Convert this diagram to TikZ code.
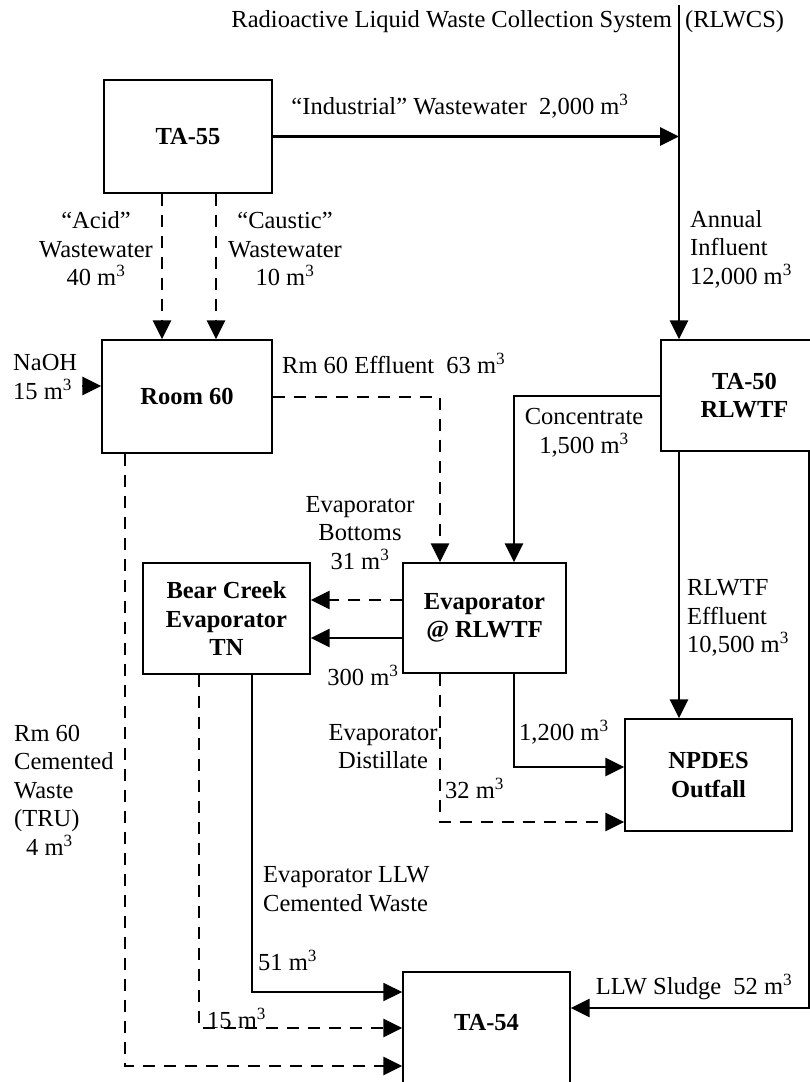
\documentclass[tikz,border=0pt]{standalone}
\usepackage{fontspec}
\setmainfont{Liberation Serif}
\usetikzlibrary{arrows.meta}
\newcommand{\mcube}{m\textsuperscript{3}}
\begin{document}
\begin{tikzpicture}[x=1pt,y=-1pt,
  box/.style={draw, line width=1.4pt, inner sep=0pt, font=\fontsize{24.5}{28.5}\selectfont\bfseries, align=center},
  lbl/.style={inner sep=0pt, font=\fontsize{24.5}{28.5}\selectfont},
  blbl/.style={inner sep=0pt, font=\fontsize{24.5}{28.5}\selectfont\bfseries},
  flow/.style={line width=2.8pt, -{Triangle[length=19pt,width=18pt]}},
  thinflow/.style={line width=1.8pt, -{Triangle[length=19pt,width=18pt]}},
  dflow/.style={line width=2.8pt, dash pattern=on 12pt off 9pt, -{Triangle[length=19pt,width=18pt]}},
  ]
\useasboundingbox (0,0) rectangle (810,1082);
% boxes
\node[box, minimum width=168pt, minimum height=113pt] (ta55) at (188,136.5) {TA-55};
\node[box, minimum width=170pt, minimum height=113pt] (room60) at (187,396.5) {Room 60};
\node[box, minimum width=167pt, minimum height=111pt] (ta50) at (744.5,395.5) {TA-50\\RLWTF};
\node[box, minimum width=163pt, minimum height=110pt] (evap) at (484.5,618) {Evaporator\\@ RLWTF};
\node[box, minimum width=167pt, minimum height=111pt] (bear) at (226.5,618.5) {Bear Creek\\Evaporator\\TN};
\node[box, minimum width=167pt, minimum height=112pt] (npdes) at (708.5,775) {NPDES\\Outfall};
\node[box, minimum width=167pt, minimum height=124pt] (ta54) at (486.5,1034) {};
\node[blbl] (ta54t) at (486.5,1023) {TA-54};
% coordinates
\coordinate (rl) at (679,5);
\coordinate (ac) at (162,0);
\coordinate (ca) at (216,0);
\coordinate (na) at (82,386);
\coordinate (re) at (440,397);
\coordinate (co) at (514,396);
\coordinate (d1) at (0,600);
\coordinate (s1) at (0,638);
\coordinate (e1) at (514,767);
\coordinate (e2) at (440,822);
\coordinate (sl) at (809,1008);
\coordinate (b1) at (252,992);
\coordinate (b2) at (199,1028);
\coordinate (r2) at (125,1066);
% connectors
\draw[flow] (rl) -- (ta50.north -| rl);
\draw[flow] (ta55.east) -- (ta55.east -| rl);
\draw[dflow] (ta55.south -| ac) -- (room60.north -| ac);
\draw[dflow] (ta55.south -| ca) -- (room60.north -| ca);
\draw[flow] (na) -- (room60.west |- na);
\draw[dflow] (room60.east |- re) -- (re) -- (evap.north -| re);
\draw[flow] (ta50.west |- co) -- (co) -- (evap.north -| co);
\draw[dflow] (evap.west |- d1) -- (bear.east |- d1);
\draw[flow] (evap.west |- s1) -- (bear.east |- s1);
\draw[flow] (ta50.south -| rl) -- (npdes.north -| rl);
\draw[flow] (evap.south -| e1) -- (e1) -- (npdes.west |- e1);
\draw[dflow] (evap.south -| e2) -- (e2) -- (npdes.west |- e2);
\draw[flow] (ta50.south -| sl) -- (sl) -- (ta54.east |- sl);
\draw[thinflow] (bear.south -| b1) -- (b1) -- (ta54.west |- b1);
\draw[dflow] (bear.south -| b2) -- (b2) -- (ta54.west |- b2);
\draw[dflow] (room60.south -| r2) -- (r2) -- (ta54.west |- r2);
% labels
\node[lbl, anchor=east] (t1) at (672,22) {Radioactive Liquid Waste Collection System};
\node[lbl, anchor=west] (t2) at (685,22) {(RLWCS)};
\node[lbl] (ind) at (460,106) {“Industrial” Wastewater\ \ 2,000 \mcube};
\node[lbl, align=center] (acid) at (96,249) {“Acid”\\Wastewater\\40 \mcube};
\node[lbl, align=center] (caus) at (285,249) {“Caustic”\\Wastewater\\10 \mcube};
\node[lbl, align=left, anchor=west] (ann) at (690,249) {Annual\\Influent\\12,000 \mcube};
\node[lbl, align=left, anchor=west] (naoh) at (13,377) {NaOH\\15 \mcube};
\node[lbl, anchor=west] (r60e) at (282,363) {Rm 60 Effluent\ \ 63 \mcube};
\node[lbl, align=center] (conc) at (584,433) {Concentrate\\1,500 \mcube};
\node[lbl, align=center] (bot) at (360,533) {Evaporator\\Bottoms\\31 \mcube};
\node[lbl] (l300) at (363,675) {300 \mcube};
\node[lbl, align=left, anchor=west] (reff) at (687,618) {RLWTF\\Effluent\\10,500 \mcube};
\node[lbl, anchor=west] (l1200) at (519,732) {1,200 \mcube};
\node[lbl, align=center] (dist) at (383,746.5) {Evaporator\\Distillate};
\node[lbl, anchor=west] (l32) at (445,788) {32 \mcube};
\node[lbl, align=left, anchor=west] (cem) at (14,790) {Rm 60\\Cemented\\Waste\\(TRU)\\\hspace*{12pt}4 \mcube};
\node[lbl, align=left, anchor=west] (llw) at (263,889) {Evaporator LLW\\Cemented Waste};
\node[lbl, anchor=west] (l51) at (258,960) {51 \mcube};
\node[lbl, anchor=west] (l15) at (207,1018) {15 \mcube};
\node[lbl] (sludge) at (694,987) {LLW Sludge\ \ 52 \mcube};
\end{tikzpicture}
\end{document}
